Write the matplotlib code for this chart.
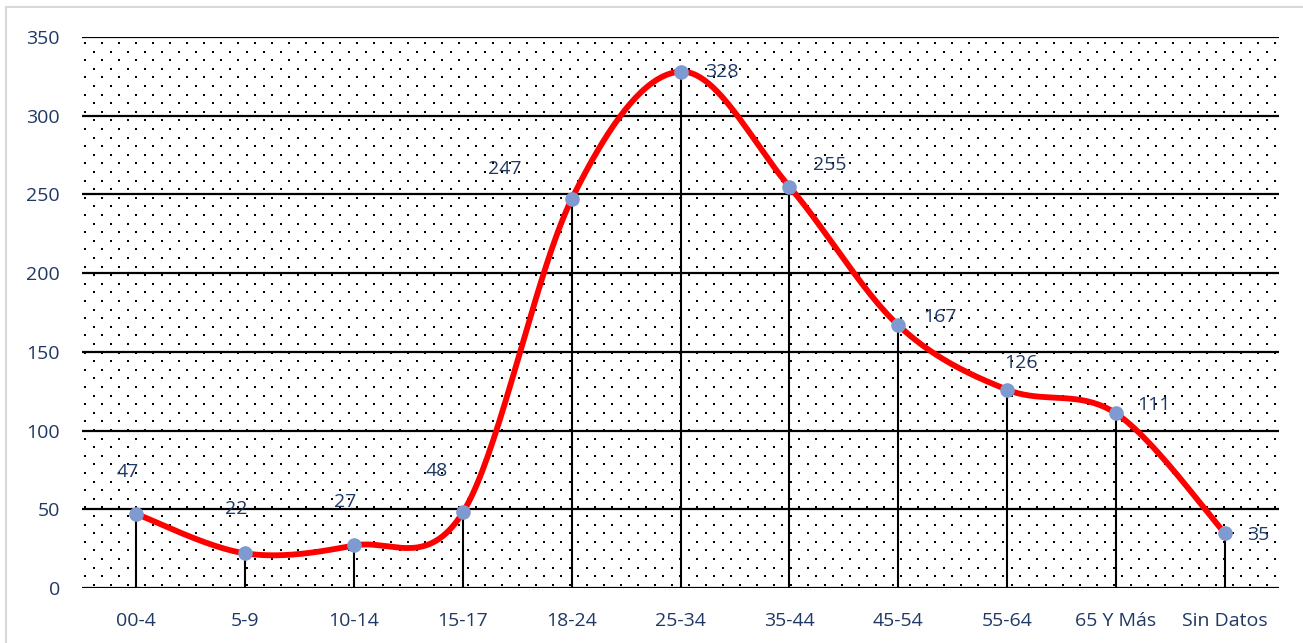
import numpy as np
import matplotlib.pyplot as plt
from matplotlib.patches import Rectangle

categories = ['00-4', '5-9', '10-14', '15-17', '18-24', '25-34', '35-44',
              '45-54', '55-64', '65 Y Más', 'Sin Datos']
values = [47, 22, 27, 48, 247, 328, 255, 167, 126, 111, 35]
# where each data label sits relative to its point (pixels, x right / y up)
label_dx = [-9, -9, -9, -26, -67, 41, 40, 42, 14, 38, 34]
label_dy = [42, 44, 43, 41, 30, 0, 22, 8, 27, 8, -2]

navy = '#1F3864'
plt.rcParams['font.family'] = ['Open Sans', 'DejaVu Sans']

fig = plt.figure(figsize=(13.03, 6.43), dpi=100)
fig.patches.append(Rectangle((6 / 1303, -0.05), 1.2, 1 - 7 / 643 + 0.05,
                             transform=fig.transFigure, fill=False,
                             edgecolor='#D9D9D9', lw=1.5))
ax = fig.add_axes([82 / 1303, 1 - 588 / 643, (1279 - 82) / 1303, (588 - 37) / 643])

x = np.arange(len(values))
y = np.array(values, dtype=float)

# dotted background pattern (in axes pixels)
W, H = 1279 - 82, 588 - 37
dx, dy = 17.0, 8.6
pts = []
row = 0
yy = H - 6.0
while yy > 0:
    off = 0 if row % 2 == 0 else -dx / 2
    xx = W - 4.0 + off
    while xx > 0:
        pts.append((xx / W, yy / H))
        xx -= dx
    yy -= dy
    row += 1
pts = np.array(pts)
ax.scatter(pts[:, 0], pts[:, 1], s=2.2, marker='s', color='black', lw=0,
           transform=ax.transAxes, zorder=0)

# smoothed line (cardinal spline like the spreadsheet smoothing)
px = np.concatenate([[x[0]], x, [x[-1]]])
py = np.concatenate([[y[0]], y, [y[-1]]])
sx, sy = [], []
t = np.linspace(0, 1, 40)
for i in range(1, len(px) - 2):
    p0 = np.array([px[i], py[i]])
    p3 = np.array([px[i + 1], py[i + 1]])
    p1 = p0 + (np.array([px[i + 1], py[i + 1]]) - np.array([px[i - 1], py[i - 1]])) / 6
    p2 = p3 - (np.array([px[i + 2], py[i + 2]]) - np.array([px[i], py[i]])) / 6
    b = ((1 - t) ** 3)[:, None] * p0 + (3 * (1 - t) ** 2 * t)[:, None] * p1 \
        + (3 * (1 - t) * t ** 2)[:, None] * p2 + (t ** 3)[:, None] * p3
    sx.extend(b[:, 0])
    sy.extend(b[:, 1])

ax.set_ylim(0, 350)
ax.set_xlim(-0.5, len(values) - 0.5)
ax.set_yticks(np.arange(0, 351, 50))
for g in np.arange(0, 351, 50):
    ax.axhline(g, color='black', lw=1.6, zorder=1)

ax.vlines(x, 0, y, color='black', lw=1.5, zorder=2)
ax.plot(sx, sy, color='#FF0000', lw=4.2, zorder=3, solid_capstyle='round')
ax.plot(x, y, 'o', ms=9.5, color='#7F9AD0', zorder=4)

for xi, yi, ox, oy in zip(x, y, label_dx, label_dy):
    ax.annotate(str(int(yi)), (xi, yi), xytext=(ox * 0.72, oy * 0.72),
                textcoords='offset points', ha='center', va='center',
                color=navy, fontsize=14)

ax.set_xticks(x)
ax.set_xticklabels(categories)
for s in ax.spines.values():
    s.set_visible(False)
ax.tick_params(length=0, labelsize=14, labelcolor=navy)
ax.tick_params(axis='x', pad=17)
ax.tick_params(axis='y', pad=16)

fig.savefig('out.png', dpi=100)
